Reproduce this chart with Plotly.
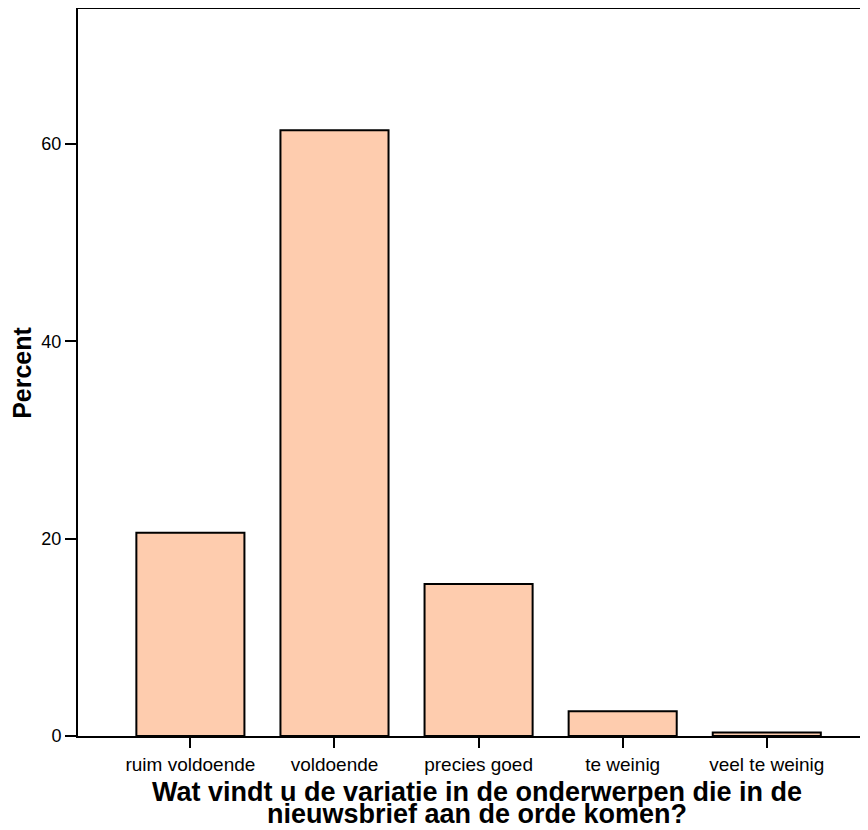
import plotly.graph_objects as go

categories = ["ruim voldoende", "voldoende", "precies goed", "te weinig", "veel te weinig"]
percent = [20.6, 61.4, 15.4, 2.5, 0.35]
y_ticks = [0, 20, 40, 60]
x_title_lines = ["Wat vindt u de variatie in de onderwerpen die in de",
                 "nieuwsbrief aan de orde komen?"]
y_title = "Percent"

FONT = "Liberation Sans, Arial, sans-serif"

fig = go.Figure(go.Bar(
    x=list(range(len(categories))),
    y=percent,
    width=0.75,
    marker=dict(color="#FECCAE", line=dict(color="black", width=2)),
))

fig.update_layout(
    width=868, height=830,
    margin=dict(l=70, r=0, t=1, b=102),
    plot_bgcolor="white", paper_bgcolor="white",
    showlegend=False,
    font=dict(family=FONT, size=18, color="black"),
)
fig.update_xaxes(
    range=[-0.78, 4.758],
    tickvals=list(range(len(categories))), ticktext=categories,
    showline=True, linecolor="black", linewidth=2, mirror=True,
    ticks="outside", ticklen=10, tickwidth=2, tickcolor="black",
    showgrid=False, zeroline=False,
    tickfont=dict(size=19),
)
fig.update_yaxes(
    range=[0, 73.68],
    tickvals=y_ticks,
    showline=True, linecolor="black", linewidth=2,
    ticks="outside", ticklen=11, tickwidth=2, tickcolor="black",
    showgrid=False, zeroline=False,
    tickfont=dict(size=18),
)

# axis titles
fig.add_annotation(text=f"<b>{x_title_lines[0]}</b>", xref="paper", yref="paper",
                   x=0.5, y=-0.0775, xanchor="center", yanchor="middle",
                   showarrow=False, font=dict(size=27, family=FONT))
fig.add_annotation(text=f"<b>{x_title_lines[1]}</b>", xref="paper", yref="paper",
                   x=0.5, y=-0.1075, xanchor="center", yanchor="middle",
                   showarrow=False, font=dict(size=27, family=FONT))
fig.add_annotation(text=f"<b>{y_title}</b>", xref="paper", yref="paper",
                   x=-0.071, y=0.5, xanchor="center", yanchor="middle",
                   textangle=-90, showarrow=False, font=dict(size=25, family=FONT))

fig.write_html("out.html")
